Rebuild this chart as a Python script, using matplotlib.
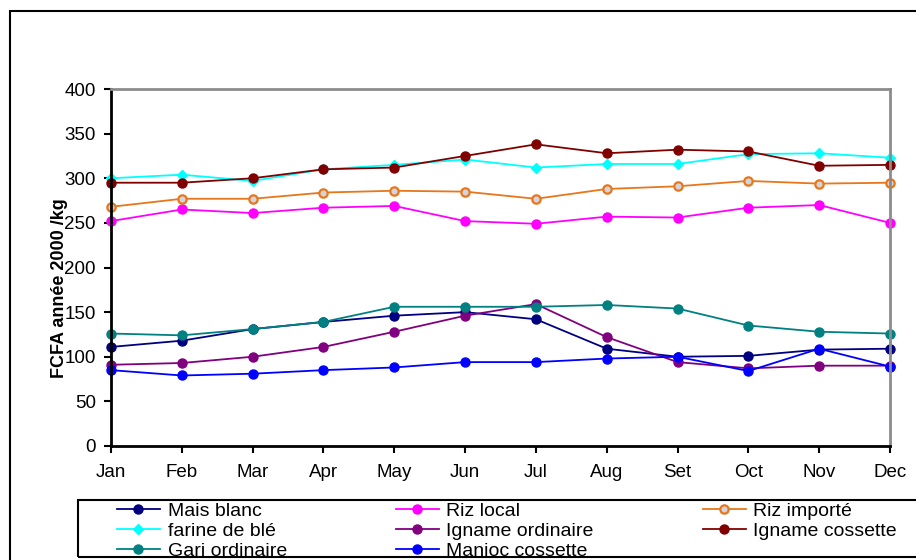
import matplotlib
matplotlib.use("Agg")
import matplotlib.pyplot as plt
from matplotlib.patches import Rectangle

plt.rcParams['font.family'] = ['Liberation Sans', 'DejaVu Sans']

mois = ['Jan', 'Feb', 'Mar', 'Apr', 'May', 'Jun', 'Jul', 'Aug', 'Set', 'Oct', 'Nov', 'Dec']

mais_blanc = [111, 118, 131, 139, 146, 150, 142, 109, 100, 101, 108, 109]
riz_local = [252, 265, 261, 267, 269, 252, 249, 257, 256, 267, 270, 250]
riz_importe = [268, 277, 277, 284, 286, 285, 277, 288, 291, 297, 294, 295]
farine_ble = [300, 304, 297, 310, 315, 321, 312, 316, 316, 327, 328, 323]
igname_ord = [91, 93, 100, 111, 128, 146, 159, 122, 94, 87, 90, 90]
igname_coss = [295, 295, 300, 310, 312, 325, 338, 328, 332, 330, 314, 315]
gari_ord = [126, 124, 131, 139, 156, 156, 156, 158, 154, 135, 128, 126]
manioc_coss = [85, 79, 81, 85, 88, 94, 94, 98, 100, 84, 109, 89]

fig = plt.figure(figsize=(9.16, 5.6), dpi=100)
ax = fig.add_axes([111/916, 1 - 446/560, (890 - 111)/916, (446 - 89)/560])

x = range(len(mois))
lw = 1.3
ms = 6.5
h_mais, = ax.plot(x, mais_blanc, color='#000080', lw=lw, marker='o', ms=ms, label='Mais blanc')
h_rizl, = ax.plot(x, riz_local, color='#FF00FF', lw=lw, marker='o', ms=ms, label='Riz local')
h_rizi, = ax.plot(x, riz_importe, color='#E8761A', lw=lw, marker='o', ms=ms - 0.5,
                  markerfacecolor='#D4D4DC', markeredgewidth=1.6, label='Riz importé')
h_far, = ax.plot(x, farine_ble, color='#00FFFF', lw=lw, marker='D', ms=5, label='farine de blé')
h_igo, = ax.plot(x, igname_ord, color='#800080', lw=lw, marker='o', ms=ms, label='Igname ordinaire')
h_igc, = ax.plot(x, igname_coss, color='#800000', lw=lw, marker='o', ms=ms, label='Igname cossette')
h_gari, = ax.plot(x, gari_ord, color='#008080', lw=lw, marker='o', ms=ms, label='Gari ordinaire')
h_man, = ax.plot(x, manioc_coss, color='#0000FF', lw=lw, marker='o', ms=ms, label='Manioc cossette')

for ln in ax.lines:
    ln.set_clip_on(False)

ax.set_xlim(0, 11)
ax.set_ylim(0, 400)
ax.set_xticks(list(x))
ax.set_xticklabels(mois)
ax.set_yticks(range(0, 401, 50))
ax.tick_params(axis='both', labelsize=13.5, direction='out', length=5, width=1.5, colors='black')
ax.tick_params(axis='x', pad=8)
ax.tick_params(axis='y', pad=6)

for side in ['left', 'bottom']:
    ax.spines[side].set_linewidth(2)
    ax.spines[side].set_color('black')
for side in ['top', 'right']:
    ax.spines[side].set_linewidth(2)
    ax.spines[side].set_color('#8C8C8C')

fig.text(60/916, 1 - 288/560, 'FCFA année 2000 /kg', rotation=90, ha='center', va='center',
         fontsize=13, fontweight='bold')

# cadre extérieur et cadre de la légende
fig.patches.append(Rectangle((10/916, -0.1), 1.2, 1.1 - 11/560, transform=fig.transFigure,
                             fill=False, edgecolor='black', lw=1.5))
fig.patches.append(Rectangle((78/916, 3/560), 1.0, 57/560, transform=fig.transFigure,
                             fill=False, edgecolor='black', lw=1.5))

handles = [h_mais, h_far, h_gari, h_rizl, h_igo, h_man, h_rizi, h_igc]
fig.legend(handles=handles, labels=[h.get_label() for h in handles], ncol=3, mode='expand',
           loc='lower left', bbox_to_anchor=(117/916, 0/560, (897 - 117)/916, 57/560),
           frameon=False, fontsize=14, handlelength=2.2, handletextpad=0.4,
           borderpad=0.0, borderaxespad=0, labelspacing=0.12, columnspacing=1.0)

fig.savefig('out.png', dpi=100)
